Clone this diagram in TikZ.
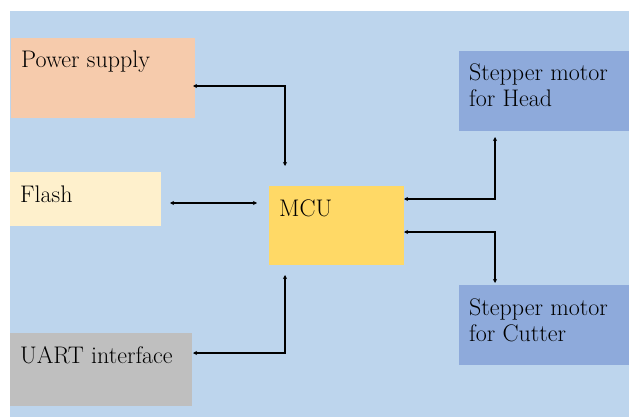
\documentclass[tikz,border=0pt]{standalone}
\usetikzlibrary{arrows.meta}

\definecolor{bgblue}{HTML}{BDD5ED}
\definecolor{psfill}{HTML}{F6CBAC}
\definecolor{flfill}{HTML}{FEF0CC}
\definecolor{mcufill}{HTML}{FFD966}
\definecolor{motfill}{HTML}{8EAADB}
\definecolor{uafill}{HTML}{BFBFBF}

\tikzset{
  block/.style={anchor=north west, inner sep=0pt, draw=none},
  lbl/.style={anchor=base west, inner sep=0pt, xshift=10pt, yshift=-30pt,
    align=left, font=\rmfamily\fontsize{24}{26}\selectfont},
  lbltwo/.style={lbl, yshift=-26pt},
  link/.style={line width=1.2pt, {Stealth[length=4pt,width=4pt]}-{Stealth[length=4pt,width=4pt]}}
}

\begin{document}
\begin{tikzpicture}[x=1pt,y=-1pt]
  % Background
  \useasboundingbox (0,0) rectangle (629,417);
  \fill[bgblue] (10,11) rectangle (629,417);
  % Blocks
  \node[block, fill=psfill, minimum width=184pt, minimum height=80pt,
    label={[lbl]north west:Power supply}] (ps) at (11,38) {};
  \node[block, fill=flfill, minimum width=151pt, minimum height=54pt,
    label={[lbl]north west:Flash}] (fl) at (10,172) {};
  \node[block, fill=mcufill, minimum width=135pt, minimum height=79pt,
    label={[lbl]north west:MCU}] (mcu) at (269,186) {};
  \node[block, fill=uafill, minimum width=182pt, minimum height=73pt,
    label={[lbl]north west:UART interface}] (ua) at (10,333) {};
  \node[block, fill=motfill, minimum width=170pt, minimum height=80pt,
    label={[lbltwo]north west:Stepper motor\\for Head}] (hd) at (459,51) {};
  \node[block, fill=motfill, minimum width=170pt, minimum height=80pt,
    label={[lbltwo]north west:Stepper motor\\for Cutter}] (ct) at (459,285) {};
  % Connector ends
  \coordinate (psEnd) at (193,86);
  \coordinate (mcuTop) at (285,166);
  \coordinate (flEnd) at (170,203);
  \coordinate (mcuLeft) at (257,203);
  \coordinate (uaEnd) at (193,353);
  \coordinate (mcuBot) at (285,275);
  \coordinate (mcuHd) at (404,199);
  \coordinate (hdEnd) at (495,137);
  \coordinate (mcuCt) at (404,232);
  \coordinate (ctEnd) at (495,283);
  % Connectors
  \draw[link] (psEnd) -| (mcuTop);
  \draw[link] (flEnd) -- (mcuLeft);
  \draw[link] (uaEnd) -| (mcuBot);
  \draw[link] (mcuHd) -| (hdEnd);
  \draw[link] (mcuCt) -| (ctEnd);
\end{tikzpicture}
\end{document}
